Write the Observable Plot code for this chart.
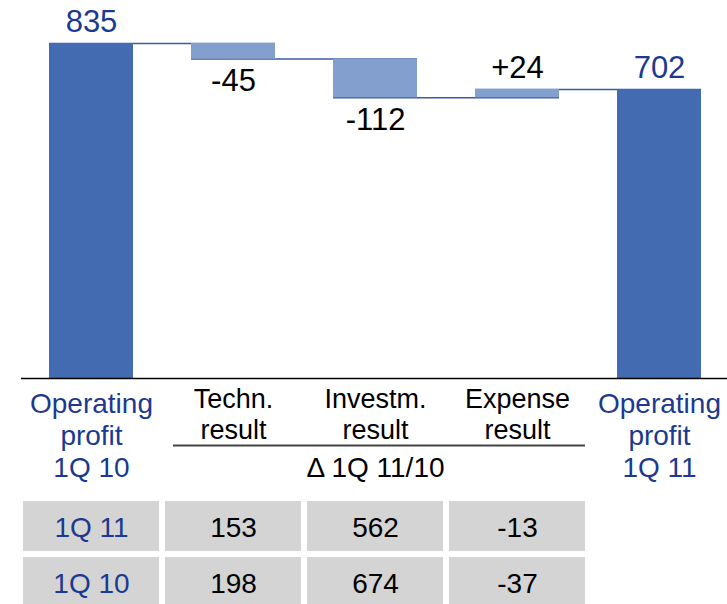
<!DOCTYPE html>
<html>
<head>
<meta charset="utf-8">
<script src="https://cdn.jsdelivr.net/npm/d3@7"></script>
<script src="https://cdn.jsdelivr.net/npm/@observablehq/plot@0.6"></script>
<style>
  body { margin: 0; background: #fff; }
  #chart svg { display: block; }
</style>
</head>
<body>
<div id="chart"></div>
<script>
// ---- data ----
const categories = ["Operating profit 1Q 10", "Techn. result", "Investm. result", "Expense result", "Operating profit 1Q 11"];
const categoryLabels = ["Operating\nprofit\n1Q 10", "Techn.\nresult", "Investm.\nresult", "Expense\nresult", "Operating\nprofit\n1Q 11"];
const kinds = ["total", "delta", "delta", "delta", "total"];
const values = [835, -45, -112, 24, 702];
const valueLabels = ["835", "-45", "-112", "+24", "702"];
const deltaCaption = "Δ 1Q 11/10";
const tableRows = ["1Q 11", "1Q 10"];
const technResult = [153, 198];
const investmResult = [562, 674];
const expenseResult = [-13, -37];
const axisBase = -133; // truncated value axis: the total bars start here

// ---- styles ----
const blueText = "#1b3a8f";
const totalFill = "#436bb2";
const deltaFill = "#839fcd";
const connectorColor = "#3a5aa8";
const font = "Liberation Sans, Arial, Helvetica, sans-serif";

// ---- derived waterfall table ----
let cum = 0;
const steps = categories.map((cat, i) => {
  const kind = kinds[i];
  let y1, y2;
  if (kind === "total") { y1 = axisBase; y2 = values[i]; cum = values[i]; }
  else { y1 = cum; cum += values[i]; y2 = cum; }
  return {cat, kind, y1, y2, top: Math.max(y1, y2), bottom: Math.min(y1, y2), level: cum,
          value: values[i], label: valueLabels[i], catLabel: categoryLabels[i]};
});
const connectors = steps.slice(0, -1).map((s, i) => ({x1: s.cat, x2: steps[i + 1].cat, y: s.level}));
const above = steps.filter(s => s.kind === "total" || s.value > 0);
const below = steps.filter(s => !(s.kind === "total" || s.value > 0));

const chart = Plot.plot({
  width: 727,
  height: 490,
  marginTop: 43,
  marginBottom: 112,
  marginLeft: 21,
  marginRight: 0,
  style: {fontFamily: font, background: "#fff"},
  x: {domain: categories, range: [20, 730], paddingInner: 0.41, paddingOuter: 0.205, axis: null},
  y: {domain: [axisBase, 835], axis: null},
  marks: [
    Plot.ruleY(connectors, {x1: "x1", x2: "x2", y: "y", stroke: connectorColor, strokeWidth: 1.5}),
    Plot.barY(steps.filter(s => s.kind === "total"), {x: "cat", y1: "y1", y2: "y2", fill: totalFill}),
    Plot.barY(steps.filter(s => s.kind !== "total"), {x: "cat", y1: "y1", y2: "y2", fill: deltaFill}),
    Plot.ruleY([axisBase], {stroke: "#000", strokeWidth: 1.5}),
    Plot.text(above, {x: "cat", y: "top", text: "label", lineAnchor: "bottom", dy: -12, fontSize: 31,
      fill: d => d.kind === "total" ? blueText : "#000"}),
    Plot.text(below, {x: "cat", y: "bottom", text: "label", lineAnchor: "bottom", dy: 32, fontSize: 31, fill: "#000"}),
    Plot.text(steps.filter(s => s.kind === "total"), {x: "cat", text: "catLabel", frameAnchor: "bottom",
      lineAnchor: "bottom", dy: 98, lineHeight: 1.13, fontSize: 28, fill: blueText}),
    Plot.text(steps.filter(s => s.kind !== "total"), {x: "cat", text: "catLabel", frameAnchor: "bottom",
      lineAnchor: "bottom", dy: 60, lineHeight: 1.125, fontSize: 27, fill: "#000"}),
    Plot.ruleY([axisBase], {x1: () => categories[1], x2: () => categories[3], dy: 67,
      insetLeft: -18, insetRight: -26, stroke: "#444", strokeWidth: 2}),
    Plot.text([deltaCaption], {x: () => categories[2], text: d => d, frameAnchor: "bottom",
      lineAnchor: "bottom", dy: 98, fontSize: 28, fill: "#000"})
  ]
});

// ---- comparison table ----
const tableData = [];
tableRows.forEach((r, j) => {
  tableData.push({col: categories[0], row: r, text: r, head: true});
  tableData.push({col: categories[1], row: r, text: String(technResult[j]), head: false});
  tableData.push({col: categories[2], row: r, text: String(investmResult[j]), head: false});
  tableData.push({col: categories[3], row: r, text: String(expenseResult[j]), head: false});
});

const table = Plot.plot({
  width: 727,
  height: 114,
  margin: 0,
  style: {fontFamily: font, background: "#fff"},
  x: {domain: categories, range: [20, 730], paddingInner: 0.04, paddingOuter: 0.02, axis: null},
  y: {domain: tableRows, range: [7, 121], paddingInner: 0.105, paddingOuter: 0.0526, axis: null},
  marks: [
    Plot.cell(tableData, {x: "col", y: "row", fill: "#d4d4d4"}),
    Plot.text(tableData.filter(d => d.head), {x: "col", y: "row", text: "text", fontSize: 28, dy: 2, fill: blueText}),
    Plot.text(tableData.filter(d => !d.head), {x: "col", y: "row", text: "text", fontSize: 28, dy: 2, fill: "#000"})
  ]
});

const root = document.getElementById("chart");
root.appendChild(chart);
root.appendChild(table);
</script>
</body>
</html>
